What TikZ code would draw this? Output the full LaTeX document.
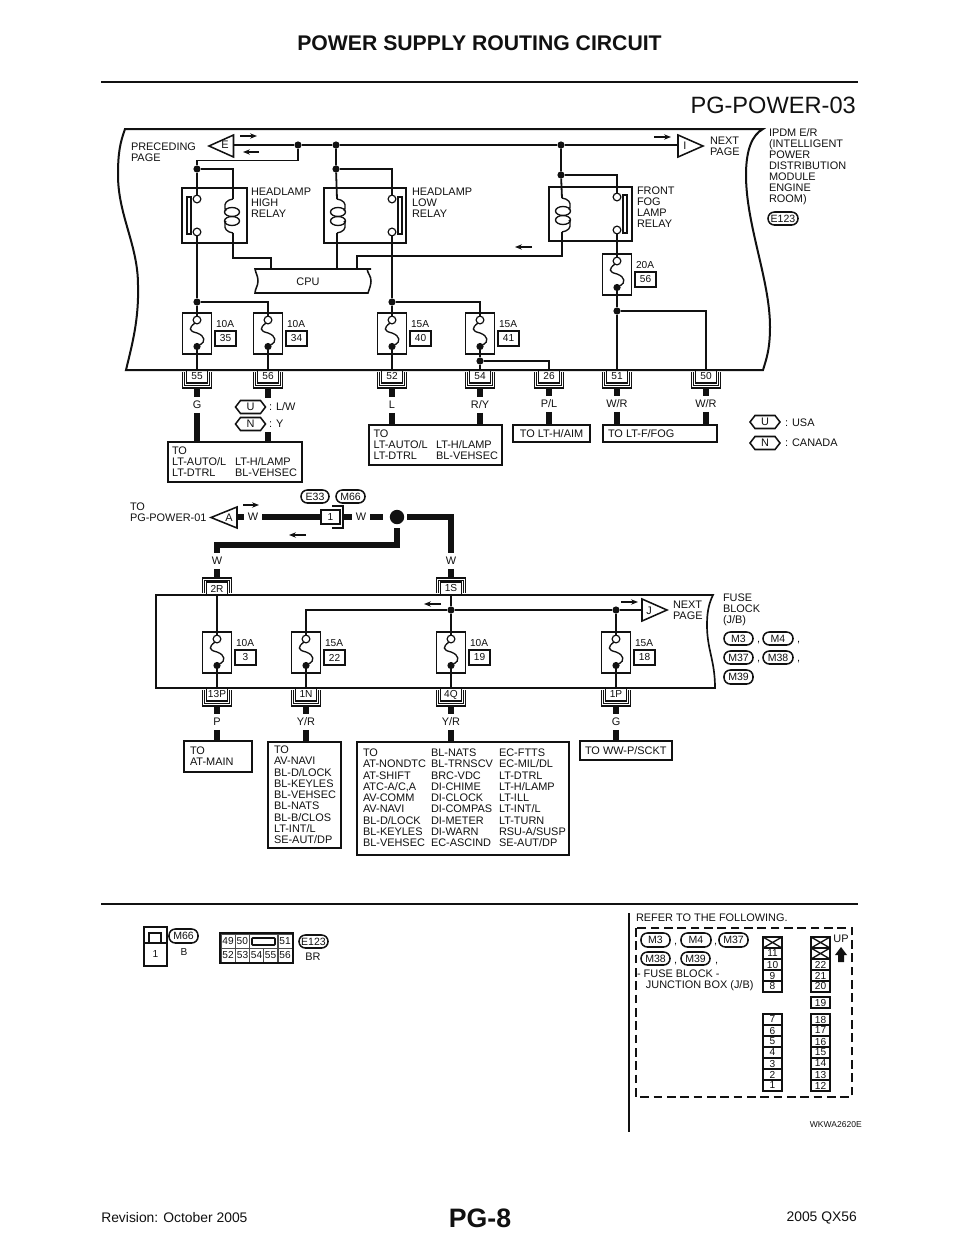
\documentclass[tikz,border=0pt]{standalone}
\usepackage{fontspec}
\setmainfont{Liberation Sans}
\usetikzlibrary{arrows.meta}
\definecolor{ink}{HTML}{111111}
\tikzset{
 lab/.style={inner sep=0pt,outer sep=0pt,font=\fontsize{8.2}{8.25}\selectfont,text height=5.9pt,text depth=0pt,anchor=west,text=ink},
 clab/.style={lab,anchor=center},
 sm/.style={lab,font=\fontsize{7.6}{8}\selectfont,text height=5.45pt},
 csm/.style={sm,anchor=center},
 wl/.style={inner sep=3pt,outer sep=0pt,font=\fontsize{8.2}{8.25}\selectfont,text height=5.9pt,text depth=0pt,anchor=center,text=ink},
 block/.style={inner sep=0pt,outer sep=0pt,align=left,anchor=north west,font=\fontsize{8.2}{8.25}\selectfont,text=ink},
 listb/.style={block,font=\fontsize{8.2}{8.44}\selectfont},
 wire/.style={draw=ink,line width=1pt,line join=miter},
 wirem/.style={draw=ink,line width=1.35pt,line join=miter},
 wiret/.style={draw=ink,line width=5pt,line join=miter},
 boxl/.style={draw=ink,line width=1.15pt},
 hous/.style={draw=ink,line width=1.5pt},
 dotn/.style={circle,fill=ink,inner sep=0pt,outer sep=0pt,minimum size=5.4pt},
 pinn/.style={circle,draw=ink,fill=white,line width=.9pt,inner sep=0pt,outer sep=0pt,minimum size=5.8pt},
 flow/.style={draw=ink,line width=1.1pt,-{Stealth[length=5.2pt,width=4pt]}},
}
\newcommand{\bx}[7][]{%
 \pgfmathsetmacro\myw{((#5)-(#3))*0.75}\pgfmathsetmacro\myh{((#6)-(#4))*0.75}%
 \node[boxl,inner sep=0pt,outer sep=0pt,minimum width=\myw pt,minimum height=\myh pt,font=\fontsize{7.6}{8}\selectfont,text=ink,#1] (#2) at ({((#3)+(#5))/2},{((#4)+(#6))/2}) {#7};}
\newcommand{\fuse}[5]{%
 \bx{#1}{(#2)-14.5}{#3}{(#2)+14.5}{(#3)+41}{}
 \node[pinn] (#1c) at (#2,{(#3)+7}) {};
 \node[dotn] (#1d) at (#2,{(#3)+33.5}) {};
 \draw[wire] ({(#2)-2},{(#3)+10}) .. controls ({(#2)-8.5},{(#3)+15}) and ({(#2)-8.5},{(#3)+18}) .. (#2,{(#3)+20}) .. controls ({(#2)+8.5},{(#3)+23}) and ({(#2)+8.5},{(#3)+29}) .. (#1d);
 \node[sm] (#1a) at ({(#2)+19},{(#3)+11}) {#4};
 \bx{#1n}{(#2)+18}{(#3)+18}{(#2)+39}{(#3)+33}{#5}
}
\newcommand{\coil}[4]{% name wx ytop dir
 \coordinate (#1T) at (#2,#3);
 \coordinate (#1B) at (#2,{(#3)+34});
 \draw[wire] (#2,#3) .. controls ({(#2)-(#4)*6},{(#3)+1}) and ({(#2)-(#4)*9},{(#3)+4}) .. ({(#2)-(#4)*8},{(#3)+9})
   .. controls ({(#2)-(#4)*8},{(#3)+11}) and ({(#2)-(#4)*7},{(#3)+12}) .. ({(#2)-(#4)*7},{(#3)+12});
 \draw[wire] (#2,{(#3)+34}) .. controls ({(#2)-(#4)*6},{(#3)+33}) and ({(#2)-(#4)*9},{(#3)+30}) .. ({(#2)-(#4)*8},{(#3)+25})
   .. controls ({(#2)-(#4)*8},{(#3)+23}) and ({(#2)-(#4)*7},{(#3)+22}) .. ({(#2)-(#4)*7},{(#3)+22});
 \draw[wire] ({(#2)-(#4)*1},{(#3)+13}) ellipse [x radius=7.5,y radius=4.5];
 \draw[wire] ({(#2)-(#4)*1},{(#3)+22}) ellipse [x radius=7.5,y radius=4.5];
}
\newcommand{\conb}[4]{% name x y text
 \bx{#1}{(#2)-10.5}{#3}{(#2)+10.5}{(#3)+13}{#4}
 \coordinate (#1b) at (#2,{(#3)+18});
 \draw[boxl] ({(#2)-14.5},{(#3)+2}) |- ({(#2)+14.5},{(#3)+18}) -- ({(#2)+14.5},{(#3)+2});
 \draw[wire] ({(#2)-12.5},{(#3)+2}) |- ({(#2)+12.5},{(#3)+15.5}) -- ({(#2)+12.5},{(#3)+2});
}
\newcommand{\cont}[4]{% name x y(bottom) text
 \bx{#1}{(#2)-10.5}{(#3)-13}{(#2)+10.5}{#3}{#4}
 \coordinate (#1b) at (#2,{(#3)-17});
 \draw[boxl] ({(#2)-14.5},{(#3)-2}) |- ({(#2)+14.5},{(#3)-17}) -- ({(#2)+14.5},{(#3)-2});
 \draw[wire] ({(#2)-12.5},{(#3)-2}) |- ({(#2)+12.5},{(#3)-14.5}) -- ({(#2)+12.5},{(#3)-2});
}
\newcommand{\hexn}[4]{% name cx cy text
 \node[clab] (#1) at (#2,#3) {#4};
 \draw[boxl] ({(#2)-15},#3) -- ({(#2)-10},{(#3)-6.5}) -- ({(#2)+10},{(#3)-6.5}) -- ({(#2)+15},#3) -- ({(#2)+10},{(#3)+6.5}) -- ({(#2)-10},{(#3)+6.5}) -- cycle;
}
\newcommand{\ov}[6]{\bx[rounded corners=4.8pt,font=\fontsize{7.9}{8}\selectfont]{#1}{#2}{#3}{#4}{#5}{#6}}
\newcommand{\cellg}[4]{\bx[line width=1.05pt]{#1}{#2}{#3}{(#2)+19}{(#3)+11}{\raisebox{-.4pt}{#4}}}
\newcommand{\cellx}[3]{\bx[line width=1.05pt]{#1}{#2}{#3}{(#2)+19}{(#3)+11}{}
 \draw[wire] (#1.north west) -- (#1.south east) (#1.north east) -- (#1.south west);}
\begin{document}
\begin{tikzpicture}[x=0.75pt,y=-0.75pt]
\useasboundingbox (0,0) rectangle (960,1242);
\fill[white] (0,0) rectangle (960,1242);
% page furniture
\node[anchor=center,inner sep=0pt,font=\bfseries\fontsize{15.9}{16}\selectfont,text=ink] (title) at (479.5,43) {POWER SUPPLY ROUTING CIRCUIT};
\coordinate (ruleL) at (101,82); \coordinate (ruleR) at (858,82);
\draw[draw=ink,line width=2.1pt] (ruleL) -- (ruleR);
\node[anchor=east,inner sep=0pt,font=\fontsize{17.7}{18}\selectfont,text=ink] (pgid) at (856,105) {PG-POWER-03};
\node[anchor=center,inner sep=0pt,font=\bfseries\fontsize{20}{20}\selectfont,text=ink] (pgno) at (480,1218) {PG-8};
\node[anchor=west,inner sep=0pt,font=\fontsize{10.4}{11}\selectfont,text=ink] (foot1) at (101,1218) {Revision: October 2005};
\node[anchor=east,inner sep=0pt,font=\fontsize{10.4}{11}\selectfont,text=ink] (foot2) at (857,1218) {2005 QX56};

% IPDM housing
\draw[hous] (125,129) .. controls (120,143) and (118,153) .. (118,175) .. controls (118,215) and (138,245) .. (138,285) .. controls (139,320) and (132,345) .. (126,370) -- (763,370) .. controls (766,360) and (770,350) .. (770,327) .. controls (770,280) and (746,225) .. (746,175) .. controls (746,150) and (752,135) .. (763,129) -- cycle;

% labels upper
\node[block] (preceding) at (131,143) {PRECEDING\\PAGE};
\node[block] (nextu) at (710,137) {NEXT\\PAGE};
\node[block] (ipdm) at (769,129) {IPDM E/R\\(INTELLIGENT\\POWER\\DISTRIBUTION\\MODULE\\ENGINE\\ROOM)};
\ov{oE}{768}{212}{798}{225}{E123}
\node[block] (hhr) at (251,188) {HEADLAMP\\HIGH\\RELAY};
\node[block] (hlr) at (412,188) {HEADLAMP\\LOW\\RELAY};
\node[block] (ffr) at (637,187) {FRONT\\FOG\\LAMP\\RELAY};

% triangles
\node[clab] (tE) at (225,145) {E};
\draw[boxl] (233.5,135) -- (209,146) -- (233.5,157) -- cycle;
\coordinate (tEb) at (233.5,145);
\node[clab] (tI) at (685,145.5) {I};
\draw[boxl] (678,135) -- (703,146) -- (678,157) -- cycle;
\coordinate (tIb) at (678,145);
\draw[flow] (240,136) -- (257,136);
\draw[flow] (259,152) -- (243,152);
\draw[flow] (654,137) -- (671,137);

% junctions upper
\node[dotn] (j1) at (298,145) {};
\node[dotn] (j2) at (336,145) {};
\node[dotn] (j3) at (561,145) {};
\node[dotn] (j4) at (197,169) {};
\node[dotn] (j5) at (336,169) {};
\node[dotn] (j6) at (561,175) {};
\node[dotn] (j7) at (197,302) {};
\node[dotn] (j8) at (392,302) {};
\node[dotn] (j9) at (480,361) {};
\node[dotn] (j10) at (617,311) {};

% relays
\bx{r1}{182}{188}{247}{243}{}
\bx{r1s}{187}{197}{191}{234}{}
\node[pinn] (r1a) at (197,199) {};
\node[pinn] (r1b) at (197,232) {};
\coil{k1}{233}{199}{1}
\bx{r2}{324}{188}{406}{243}{}
\bx{r2s}{398}{197}{402}{234}{}
\node[pinn] (r2a) at (392,199) {};
\node[pinn] (r2b) at (392,232) {};
\coil{k2}{337}{199}{-1}
\bx{r3}{549}{187}{632}{241}{}
\bx{r3s}{623}{195}{627}{233}{}
\node[pinn] (r3a) at (617,197) {};
\node[pinn] (r3b) at (617,230) {};
\coil{k3}{562}{198}{-1}

% CPU
\node[clab] (cpu) at (308,282) {CPU};
\draw[boxl] (371,269) -- (255,269) .. controls (256,274) and (258,276) .. (258,281) .. controls (258,286) and (255,289) .. (255,293) -- (368,293) .. controls (369,289) and (371,286) .. (371,281) .. controls (371,276) and (368,274) .. (367,269);
\coordinate (cpu1) at (271,269);
\coordinate (cpu2) at (337,269);
\coordinate (cpu3) at (357,269);

% fuses upper
\fuse{f35}{197}{313}{10A}{35}
\fuse{f34}{268}{313}{10A}{34}
\fuse{f40}{392}{313}{15A}{40}
\fuse{f41}{480}{313}{15A}{41}
\fuse{f56}{617}{254}{20A}{56}

% connectors upper
\conb{c55}{197}{370}{55}
\conb{c56}{268}{370}{56}
\conb{c52}{392}{370}{52}
\conb{c54}{480}{370}{54}
\conb{c26}{549}{370}{26}
\conb{c51}{617}{370}{51}
\conb{c50}{706}{370}{50}

% wires upper
\coordinate (n1) at (197,160.5);
\coordinate (n3) at (271,258);
\coordinate (n4) at (562,256);
\draw[wire] (tEb) -- (j1) -- (j2) -- (j3) -- (tIb);
\draw[wire] (j1) |- (n1) -- (j4);
\draw[wirem] (j4) -- (r1a);
\draw[wirem] (r1b) -- (j7) -- (f35c);
\draw[wire] (j4) -| (k1T);
\draw[wire] (j7) -| (f34c);
\draw[wire] (k1B) |- (n3) -- (cpu1);
\draw[wirem] (j2) -- (j5) -- (k2T);
\draw[wire] (j5) -| (r2a);
\draw[wirem] (r2b) -- (j8) -- (f40c);
\draw[wire] (j8) -| (f41c);
\draw[wire] (k2B) -- (cpu2);
\draw[wire] (cpu3) |- (n4) -- (k3B);
\draw[wirem] (j3) -- (j6) -- (k3T);
\draw[wire] (j6) -| (r3a);
\draw[wirem] (r3b) -- (f56c);
\draw[wirem] (f56d) -- (j10) -- (c51);
\draw[wire] (j10) -| (c50);
\draw[wire] (f35d) -- (c55);
\draw[wire] (f34d) -- (c56);
\draw[wire] (f40d) -- (c52);
\draw[wire] (f41d) -- (j9) -- (c54);
\draw[wire] (j9) -| (c26);
\draw[flow] (532,247) -- (515,247);

% harness labels upper
\node[wl] (lG) at (197,405) {G};
\node[wl] (lL) at (392,405) {L};
\node[wl] (lRY) at (480,405) {R/Y};
\node[wl] (lPL) at (549,404) {P/L};
\node[wl] (lWR1) at (617,404) {W/R};
\node[wl] (lWR2) at (706,404) {W/R};
\hexn{hU}{250.5}{407}{U}
\hexn{hN}{250.5}{424}{N}
\node[lab] (tLW) at (269,406.5) {: L/W};
\node[lab] (tY) at (269,424) {: Y};
\hexn{hU2}{765}{422}{U}
\hexn{hN2}{765}{443}{N}
\node[lab] (tUSA) at (785,422.5) {: USA};
\node[lab] (tCAN) at (785,443) {: CANADA};

% destination boxes upper
\bx{b1}{168}{442}{302}{482}{}
\node[block] (b1a) at (172,447) {TO\\LT-AUTO/L\\LT-DTRL};
\node[block] (b1b) at (235,458) {LT-H/LAMP\\BL-VEHSEC};
\bx{b2}{369}{425}{502}{465}{}
\node[block] (b2a) at (373.5,430) {TO\\LT-AUTO/L\\LT-DTRL};
\node[block] (b2b) at (436,441) {LT-H/LAMP\\BL-VEHSEC};
\bx[font=\fontsize{8.2}{8.25}\selectfont]{b3}{513}{425}{590}{442}{TO LT-H/AIM}
\bx{b4}{603}{425}{717}{442}{}
\node[lab] (b4t) at (608,434) {TO LT-F/FOG};

\coordinate (w56a) at (268,398);
\coordinate (w56b) at (268,432);
\draw[wiret] (c55b) -- (lG.north);
\draw[wiret] (lG.south) -- (lG |- b1.north);
\draw[wiret] (c56b) -- (w56a);
\draw[wiret] (w56b) -- (w56b |- b1.north);
\draw[wiret] (c52b) -- (lL.north);
\draw[wiret] (lL.south) -- (lL |- b2.north);
\draw[wiret] (c54b) -- (lRY.north);
\draw[wiret] (lRY.south) -- (lRY |- b2.north);
\draw[wiret] (c26b) -- (lPL.north);
\draw[wiret] (lPL.south) -- (lPL |- b3.north);
\draw[wiret] (c51b) -- (lWR1.north);
\draw[wiret] (lWR1.south) -- (lWR1 |- b4.north);
\draw[wiret] (c50b) -- (lWR2.north);
\draw[wiret] (lWR2.south) -- (lWR2 |- b4.north);

% middle harness
\node[block] (pg01) at (130,502.5) {TO\\PG-POWER-01};
\node[clab] (tA) at (229,517.5) {A};
\draw[boxl] (237,507) -- (211,517.5) -- (237,528) -- cycle;
\coordinate (tAb) at (237,517);
\draw[flow] (243,505) -- (259,505);
\draw[flow] (306,535) -- (289,535);
\ov{oE33}{301}{490}{329}{503}{E33}
\ov{oM66}{336}{490}{365}{503}{M66}
\node[wl] (lW1) at (253,517) {W};
\bx{m1}{321}{510}{340}{524}{1}
\draw[boxl] (332,506) -| (343,528) -- (332,528);
\coordinate (m1e) at (343,517);
\node[wl] (lW2) at (361,517) {W};
\coordinate (bd1) at (383,517);
\node[circle,fill=ink,inner sep=0pt,minimum size=10.8pt] (bigdot) at (397,517) {};
\coordinate (bd2) at (407,517);
\coordinate (bd3) at (397,528);
\coordinate (nl) at (217,545);
\node[wl] (lWl) at (217,561) {W};
\node[wl] (lWr) at (451,561) {W};
\draw[wiret] (tAb) -- (lW1.west);
\draw[wiret] (lW1.east) -- (m1.west);
\draw[wiret] (m1e) -- (lW2.west);
\draw[wiret] (lW2.east) -- (bd1);
\draw[wiret] (bd2) -| (lWr.north);
\draw[wiret] (bd3) |- (nl) -- (lWl.north);

% fuse block housing
\draw[hous,line width=1.25pt] (713,595) -- (156,595) -- (156,688) -- (715,688) .. controls (715,660) and (707,650) .. (707,625) .. controls (707,615) and (708,605) .. (713,595) -- cycle;
\node[block] (nextl) at (673,601) {NEXT\\PAGE};
\node[block] (fbt) at (723,594) {FUSE\\BLOCK\\(J/B)};
\ov{oM3}{724}{632}{753}{645}{M3}
\node[lab] (cm1) at (757,639) {,};
\ov{oM4}{763}{632}{793}{645}{M4}
\node[lab] (cm2) at (797,639) {,};
\ov{oM37}{724}{651}{753}{664}{M37}
\node[lab] (cm3) at (757,658) {,};
\ov{oM38}{763}{651}{793}{664}{M38}
\node[lab] (cm4) at (797,658) {,};
\ov{oM39}{724}{670}{753}{684}{M39}

\node[clab] (tJ) at (649,610.5) {J};
\draw[boxl] (642,599) -- (667,610) -- (642,621) -- cycle;
\coordinate (tJb) at (642,610);
\draw[flow] (621,602) -- (638,602);
\draw[flow] (441,604) -- (424,604);

\fuse{f3}{217}{632}{10A}{3}
\fuse{f22}{306}{632}{15A}{22}
\fuse{f19}{451}{632}{10A}{19}
\fuse{f18}{616}{632}{15A}{18}

\cont{c2R}{217}{595}{2R}
\cont{c1S}{451}{595}{1S}
\conb{c13P}{217}{688}{13P}
\conb{c1N}{306}{688}{1N}
\conb{c4Q}{451}{688}{4Q}
\conb{c1P}{616}{688}{1P}

\node[dotn] (j11) at (451,610) {};
\node[dotn] (j12) at (616,610) {};
\coordinate (bl1) at (306,610);
\draw[wire] (f22c) |- (bl1) -- (j11) -- (j12) -- (tJb);
\draw[wirem] (c2R) -- (f3c);
\draw[wirem] (c1S) -- (j11) -- (f19c);
\draw[wirem] (j12) -- (f18c);
\draw[wire] (f3d) -- (c13P);
\draw[wire] (f22d) -- (c1N);
\draw[wire] (f19d) -- (c4Q);
\draw[wire] (f18d) -- (c1P);
\draw[wiret] (lWl.south) -- (c2Rb);
\draw[wiret] (lWr.south) -- (c1Sb);

% destinations lower
\node[wl] (lP) at (217,722) {P};
\node[wl] (lYR1) at (306,722) {Y/R};
\node[wl] (lYR2) at (451,722) {Y/R};
\node[wl] (lG2) at (616,722) {G};
\bx{b5}{184}{741}{252}{772}{}
\node[block] (b5t) at (190,747) {TO\\AT-MAIN};
\bx{b6}{268}{742}{341}{848}{}
\node[listb] (b6t) at (274,746) {TO\\AV-NAVI\\BL-D/LOCK\\BL-KEYLES\\BL-VEHSEC\\BL-NATS\\BL-B/CLOS\\LT-INT/L\\SE-AUT/DP};
\bx{b7}{357}{742}{569}{855}{}
\node[listb] (b7a) at (363,749) {TO\\AT-NONDTC\\AT-SHIFT\\ATC-A/C,A\\AV-COMM\\AV-NAVI\\BL-D/LOCK\\BL-KEYLES\\BL-VEHSEC};
\node[listb] (b7b) at (431,749) {BL-NATS\\BL-TRNSCV\\BRC-VDC\\DI-CHIME\\DI-CLOCK\\DI-COMPAS\\DI-METER\\DI-WARN\\EC-ASCIND};
\node[listb] (b7c) at (499,749) {EC-FTTS\\EC-MIL/DL\\LT-DTRL\\LT-H/LAMP\\LT-ILL\\LT-INT/L\\LT-TURN\\RSU-A/SUSP\\SE-AUT/DP};
\bx{b8}{580}{741}{672}{760}{}
\node[lab] (b8t) at (585,751) {TO WW-P/SCKT};
\draw[wiret] (c13Pb) -- (lP.north);
\draw[wiret] (lP.south) -- (lP |- b5.north);
\draw[wiret] (c1Nb) -- (lYR1.north);
\draw[wiret] (lYR1.south) -- (lYR1 |- b6.north);
\draw[wiret] (c4Qb) -- (lYR2.north);
\draw[wiret] (lYR2.south) -- (lYR2 |- b7.north);
\draw[wiret] (c1Pb) -- (lG2.north);
\draw[wiret] (lG2.south) -- (lG2 |- b8.north);

% lower section rules
\coordinate (rule2L) at (101,904); \coordinate (rule2R) at (858,904);
\draw[draw=ink,line width=1.5pt] (rule2L) -- (rule2R);
\coordinate (rule3T) at (629,913); \coordinate (rule3B) at (629,1132);
\draw[draw=ink,line width=1.5pt] (rule3T) -- (rule3B);

% connector M66
\bx{x1}{144}{927}{167}{943}{}
\bx{x2}{149}{933}{161}{943}{}
\bx{x3}{144}{943}{167}{966}{1}
\ov{oxM}{169}{929}{198}{943}{M66}
\node[csm] (xB) at (184,952) {B};

% connector E123
\bx[fill=ink!75,line width=.8pt]{y0}{220}{933}{293}{963}{}
\bx[fill=white,draw=none]{y49}{221.5}{935}{234.5}{947.5}{49}
\bx[fill=white,draw=none]{y50}{236}{935}{248.5}{947.5}{50}
\bx[fill=white,draw=none]{ym}{250}{935}{277}{947.5}{}
\bx[fill=white,draw=none]{y51}{278.5}{935}{291.5}{947.5}{51}
\bx[fill=white,draw=none]{y52}{221.5}{949}{234.5}{961.5}{52}
\bx[fill=white,draw=none]{y53}{236}{949}{249}{961.5}{53}
\bx[fill=white,draw=none]{y54}{250}{949}{263}{961.5}{54}
\bx[fill=white,draw=none]{y55}{264}{949}{277}{961.5}{55}
\bx[fill=white,draw=none]{y56}{278.5}{949}{291.5}{961.5}{56}
\bx[rounded corners=.6pt]{yslot}{252}{938}{275}{945}{}
\ov{oyE}{299}{935}{328}{948}{E123}
\node[clab] (yBR) at (313,957) {BR};

% reference
\node[lab] (refer) at (636,918) {REFER TO THE FOLLOWING.};
\draw[draw=ink,line width=1.45pt,dash pattern=on 6.5pt off 3.5pt] (636,928) rectangle (852,1097);
\ov{pM3}{641}{933}{670}{947}{M3}
\node[lab] (pc1) at (674,941) {,};
\ov{pM4}{681}{933}{711}{947}{M4}
\node[lab] (pc2) at (714,941) {,};
\ov{pM37}{719}{933}{748}{947}{M37}
\ov{pM38}{641}{952}{670}{965}{M38}
\node[lab] (pc3) at (674,960) {,};
\ov{pM39}{681}{952}{710}{965}{M39}
\node[lab] (pc4) at (715,960) {,};
\node[block] (fbj) at (637,970) {- FUSE BLOCK -\\\hspace*{6.7pt}JUNCTION BOX (J/B)};
\cellx{gxa}{763}{937}
\cellg{g11}{763}{948}{11}
\cellg{g10}{763}{959}{10}
\cellg{g9}{763}{970}{9}
\cellg{g8}{763}{981}{8}
\cellg{g7}{763}{1014}{7}
\cellg{g6}{763}{1025}{6}
\cellg{g5}{763}{1036}{5}
\cellg{g4}{763}{1047}{4}
\cellg{g3}{763}{1058}{3}
\cellg{g2}{763}{1069}{2}
\cellg{g1}{763}{1080}{1}
\cellx{gxb}{811}{937}
\cellx{gxc}{811}{948}
\cellg{g22}{811}{959}{22}
\cellg{g21}{811}{970}{21}
\cellg{g20}{811}{981}{20}
\cellg{g19}{811}{997}{19}
\cellg{g18}{811}{1014}{18}
\cellg{g17}{811}{1025}{17}
\cellg{g16}{811}{1036}{16}
\cellg{g15}{811}{1047}{15}
\cellg{g14}{811}{1058}{14}
\cellg{g13}{811}{1069}{13}
\cellg{g12}{811}{1080}{12}
\node[clab] (up) at (841,939) {UP};
\fill[ink] (841,947) -- (847,955) -- (844,955) -- (844,962) -- (838,962) -- (838,955) -- (835,955) -- cycle;
\node[anchor=east,inner sep=0pt,font=\fontsize{6.4}{7}\selectfont,text=ink] (wk) at (862,1125) {WKWA2620E};
\end{tikzpicture}
\end{document}
